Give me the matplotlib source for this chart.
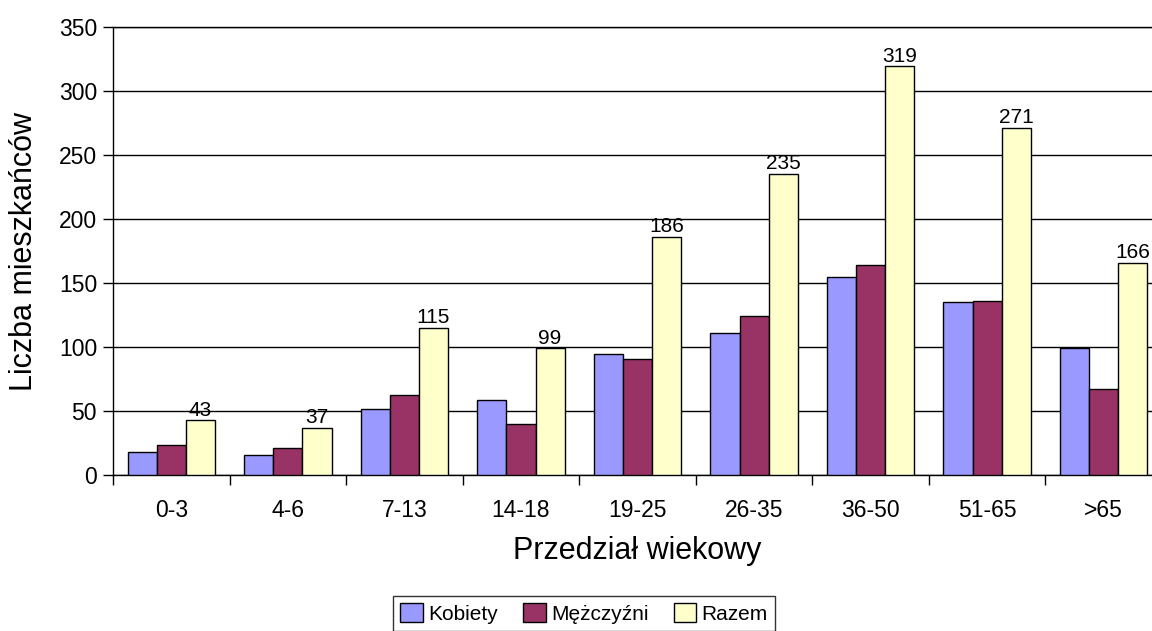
import numpy as np
import matplotlib
matplotlib.use("Agg")
import matplotlib.pyplot as plt

plt.rcParams['font.family'] = ['Liberation Sans', 'DejaVu Sans']

kategorie = ['0-3', '4-6', '7-13', '14-18', '19-25', '26-35', '36-50', '51-65', '>65']
kobiety = [18, 16, 52, 59, 95, 111, 155, 135, 99]
mezczyzni = [24, 21, 63, 40, 91, 124, 164, 136, 67]
razem = [43, 37, 115, 99, 186, 235, 319, 271, 166]

fig = plt.figure(figsize=(11.52, 6.31), dpi=100)
ax = fig.add_axes([0.0981, 0.2467, 0.9106, 0.7109])

x = np.arange(len(kategorie))
w = 0.25
kw = dict(width=w, edgecolor='black', linewidth=1.0, zorder=3)
ax.bar(x - w, kobiety, color='#9999FF', label='Kobiety', **kw)
ax.bar(x, mezczyzni, color='#993366', label='Mężczyźni', **kw)
b3 = ax.bar(x + w, razem, color='#FFFFCC', label='Razem', **kw)

# etykiety wartości nad słupkami "Razem"
for rect, v in zip(b3, razem):
    ax.annotate(str(v), (rect.get_x() + rect.get_width() / 2, v),
                xytext=(0, 0.5), textcoords='offset points',
                ha='center', va='bottom', fontsize=15)

ax.set_xlim(-0.5, len(kategorie) - 0.5)
ax.set_ylim(0, 350)
ax.set_yticks(np.arange(0, 351, 50))
ax.set_xticks(x)
ax.set_xticklabels(kategorie)
ax.set_xticks(np.arange(-0.5, len(kategorie)), minor=True)
ax.tick_params(axis='x', which='major', length=0, pad=17, labelsize=16.5)
ax.tick_params(axis='x', which='minor', length=7.5, width=1, direction='out')
ax.tick_params(axis='y', length=7.5, width=1, direction='out', pad=4, labelsize=16.5)

ax.yaxis.grid(True, color='black', linewidth=1.0, zorder=0)
ax.set_axisbelow(True)
for s in ['left', 'bottom', 'top']:
    ax.spines[s].set_color('black')
    ax.spines[s].set_linewidth(1.0)
ax.spines['right'].set_visible(False)

ax.set_xlabel('Przedział wiekowy', fontsize=22, labelpad=10)
ax.set_ylabel('Liczba mieszkańców', fontsize=22, labelpad=14)

leg = fig.legend(loc='upper center', bbox_to_anchor=(584 / 1152, 0.0555), ncol=3,
                 fontsize=15, frameon=True, fancybox=False, borderpad=0.35,
                 handlelength=1.1, handleheight=1.0, handletextpad=0.25,
                 columnspacing=1.2, borderaxespad=0)
leg.get_frame().set_edgecolor('black')
leg.get_frame().set_linewidth(1.0)

fig.savefig('out.png', dpi=100)
